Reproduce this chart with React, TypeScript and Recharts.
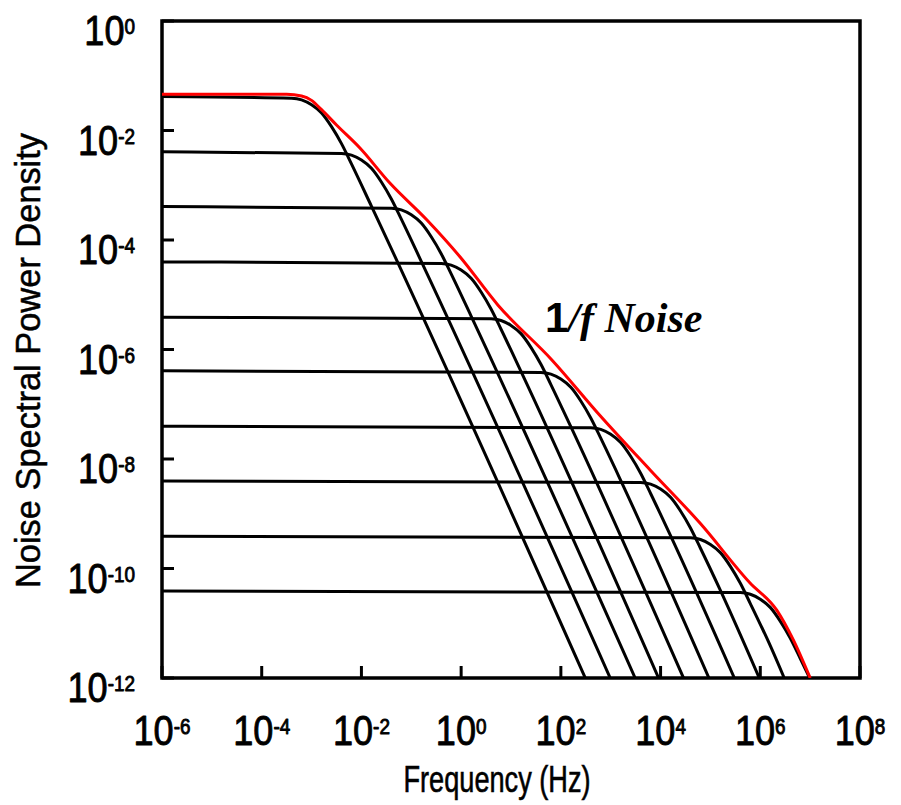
import React from "react";
import { LineChart, Line, XAxis, YAxis, ReferenceArea, ReferenceDot } from "recharts";

// Each point is [log10 frequency (Hz), log10 noise spectral power density]
type Pt = [number, number];

const X_TICK_EXPONENTS = [-6, -4, -2, 0, 2, 4, 6, 8];
const Y_TICK_EXPONENTS = [0, -2, -4, -6, -8, -10, -12];

// Lorentzian components (one trap level each)
const lorentz1: Pt[] = [[-6, -1.38], [-3.4, -1.41], [-3.2, -1.44], [-3.0, -1.53], [-2.8, -1.68], [-2.6, -1.93], [-2.4, -2.24], [-2.2, -2.61], [-1.8, -3.38], [2.49, -12]];
const lorentz2: Pt[] = [[-6, -2.39], [-2.4, -2.42], [-2.2, -2.45], [-2.0, -2.54], [-1.8, -2.69], [-1.6, -2.94], [-1.4, -3.25], [-1.2, -3.62], [-0.8, -4.39], [2.99, -12]];
const lorentz3: Pt[] = [[-6, -3.39], [-1.4, -3.42], [-1.2, -3.45], [-1.0, -3.54], [-0.8, -3.69], [-0.6, -3.94], [-0.4, -4.25], [-0.2, -4.62], [0.2, -5.39], [3.49, -12]];
const lorentz4: Pt[] = [[-6, -4.4], [-0.4, -4.43], [-0.2, -4.46], [0, -4.55], [0.2, -4.7], [0.4, -4.95], [0.6, -5.26], [0.8, -5.63], [1.2, -6.4], [3.96, -12]];
const lorentz5: Pt[] = [[-6, -5.41], [0.6, -5.44], [0.8, -5.47], [1.0, -5.56], [1.2, -5.71], [1.4, -5.96], [1.6, -6.27], [1.8, -6.64], [2.2, -7.41], [4.46, -12]];
const lorentz6: Pt[] = [[-6, -6.39], [1.6, -6.42], [1.8, -6.45], [2.0, -6.54], [2.2, -6.69], [2.4, -6.94], [2.6, -7.25], [2.8, -7.62], [3.2, -8.39], [4.97, -12]];
const lorentz7: Pt[] = [[-6, -7.4], [2.6, -7.43], [2.8, -7.46], [3.0, -7.55], [3.2, -7.7], [3.4, -7.95], [3.6, -8.26], [3.8, -8.63], [4.2, -9.4], [5.48, -12]];
const lorentz8: Pt[] = [[-6, -8.4], [3.6, -8.43], [3.8, -8.46], [4.0, -8.55], [4.2, -8.7], [4.4, -8.95], [4.6, -9.26], [4.8, -9.63], [5.2, -10.4], [5.98, -12]];
const lorentz9: Pt[] = [[-6, -9.41], [4.6, -9.44], [4.8, -9.47], [5.0, -9.56], [5.2, -9.71], [5.4, -9.96], [5.6, -10.27], [5.8, -10.64], [6.2, -11.41], [6.48, -12]];
const lorentz10: Pt[] = [[-6, -10.41], [5.6, -10.44], [5.8, -10.47], [6.0, -10.56], [6.2, -10.71], [6.4, -10.96], [6.6, -11.27], [6.8, -11.64], [6.99, -12]];

// Total 1/f spectrum (sum of the components)
const oneOverF: Pt[] = [[-6, -1.34], [-3.5, -1.34], [-3.2, -1.37], [-3.0, -1.45], [-2.8, -1.62], [-2.5, -1.9], [-2.03, -2.32], [-1.43, -2.96], [-0.69, -3.63], [-0.02, -4.31], [0.74, -5.19], [1.82, -6.19], [2.78, -7.2], [3.79, -8.2], [4.79, -9.17], [5.79, -10.26], [6.33, -10.76], [6.66, -11.3], [7.0, -12]];

const LORENTZIANS = [lorentz1, lorentz2, lorentz3, lorentz4, lorentz5, lorentz6, lorentz7, lorentz8, lorentz9, lorentz10];

const NOISE_LABEL_AT: Pt = [1.68, -5.68];

const toPoints = (pts: Pt[]) => pts.map(([lf, ls]) => ({ f: Math.pow(10, lf), s: Math.pow(10, ls) }));

const AXIS_FONT = "'Liberation Sans', Arial, Helvetica, sans-serif";
const TICK_FONT_SIZE = 42;
const SUP_FONT_SIZE = 22;
const CONDENSE = 0.86;

// Regular weight with a hairline outline, a little heavier than plain regular
const heavyText = { stroke: "#000", strokeWidth: 0.9, strokeLinejoin: "round" as const };

function PowerOfTen({ exp, anchor }: { exp: number; anchor: "end" | "middle" }) {
  return (
    <text textAnchor={anchor} fontFamily={AXIS_FONT} fontSize={TICK_FONT_SIZE} fill="#000" {...heavyText}>
      <tspan>10</tspan>
      <tspan fontSize={SUP_FONT_SIZE} dy={-11}>{String(exp)}</tspan>
    </text>
  );
}

function YTick(props: any) {
  const { x, y, payload } = props;
  const exp = Math.round(Math.log10(payload.value));
  return (
    <g>
      <line x1={x} y1={y} x2={x + 12} y2={y} stroke="#000" strokeWidth={3} />
      <g transform={`translate(${x - 27},${y + 24}) scale(${CONDENSE},1)`}>
        <PowerOfTen exp={exp} anchor="end" />
      </g>
    </g>
  );
}

function XTick(props: any) {
  const { x, y, payload } = props;
  const exp = Math.round(Math.log10(payload.value));
  return (
    <g>
      <line x1={x} y1={y} x2={x} y2={y - 12} stroke="#000" strokeWidth={3} />
      <g transform={`translate(${x},${y + 67}) scale(${CONDENSE},1)`}>
        <PowerOfTen exp={exp} anchor="middle" />
      </g>
    </g>
  );
}

function XTitle(props: any) {
  const vb = props.viewBox || {};
  const cx = vb.x + vb.width / 2 - 14;
  return (
    <text
      x={cx}
      y={vb.y + 114}
      textAnchor="middle"
      fontFamily={AXIS_FONT}
      fontSize={37}
      textLength={187}
      lengthAdjust="spacingAndGlyphs"
      fill="#000"
      stroke="#000"
      strokeWidth={0.6}
    >
      Frequency (Hz)
    </text>
  );
}

function YTitle(props: any) {
  const vb = props.viewBox || {};
  const cy = vb.y + vb.height / 2 + 11;
  return (
    <text
      transform={`translate(40,${cy}) rotate(-90)`}
      textAnchor="middle"
      fontFamily={AXIS_FONT}
      fontSize={35}
      textLength={455}
      lengthAdjust="spacingAndGlyphs"
      fill="#000"
      stroke="#000"
      strokeWidth={0.5}
    >
      Noise Spectral Power Density
    </text>
  );
}

function NoiseLabel(props: any) {
  const { cx, cy } = props;
  return (
    <text x={cx} y={cy} fontSize={42} fill="#000" fontWeight="bold">
      <tspan fontFamily="'Liberation Sans', Arial, sans-serif">1</tspan>
      <tspan fontFamily="'Liberation Serif', 'Times New Roman', serif" fontStyle="italic">/f Noise</tspan>
    </text>
  );
}

export default function App() {
  const xTicks = X_TICK_EXPONENTS.map((e) => Math.pow(10, e));
  const yTicks = Y_TICK_EXPONENTS.map((e) => Math.pow(10, e));
  return (
    <div style={{ position: "fixed", left: 0, top: 0, background: "#fff" }}>
      <LineChart width={901} height={805} margin={{ top: 21, right: 41, bottom: 0, left: 0 }}>
        <XAxis
          dataKey="f"
          type="number"
          scale="log"
          domain={[1e-6, 1e8]}
          ticks={xTicks}
          interval={0}
          allowDataOverflow
          axisLine={false}
          tickLine={false}
          tickSize={0}
          tickMargin={0}
          height={127}
          tick={<XTick />}
          label={<XTitle />}
        />
        <YAxis
          dataKey="s"
          type="number"
          scale="log"
          domain={[1e-12, 1]}
          ticks={yTicks}
          interval={0}
          allowDataOverflow
          axisLine={false}
          tickLine={false}
          tickSize={0}
          tickMargin={0}
          width={162}
          tick={<YTick />}
          label={<YTitle />}
        />
        {LORENTZIANS.map((pts, i) => (
          <Line
            key={`lorentz-${i}`}
            data={toPoints(pts)}
            dataKey="s"
            type="monotone"
            stroke="#000"
            strokeWidth={3}
            dot={false}
            activeDot={false}
            isAnimationActive={false}
          />
        ))}
        <Line
          data={toPoints(oneOverF)}
          dataKey="s"
          type="monotone"
          stroke="#ff0000"
          strokeWidth={3}
          dot={false}
          activeDot={false}
          isAnimationActive={false}
        />
        <ReferenceArea
          x1={1e-6}
          x2={1e8}
          y1={1e-12}
          y2={1}
          fill="none"
          fillOpacity={0}
          stroke="#000"
          strokeWidth={3.5}
          ifOverflow="visible"
        />
        <ReferenceDot
          x={Math.pow(10, NOISE_LABEL_AT[0])}
          y={Math.pow(10, NOISE_LABEL_AT[1])}
          r={0}
          ifOverflow="visible"
          shape={(p: any) => <NoiseLabel cx={p.cx} cy={p.cy} />}
        />
      </LineChart>
    </div>
  );
}
